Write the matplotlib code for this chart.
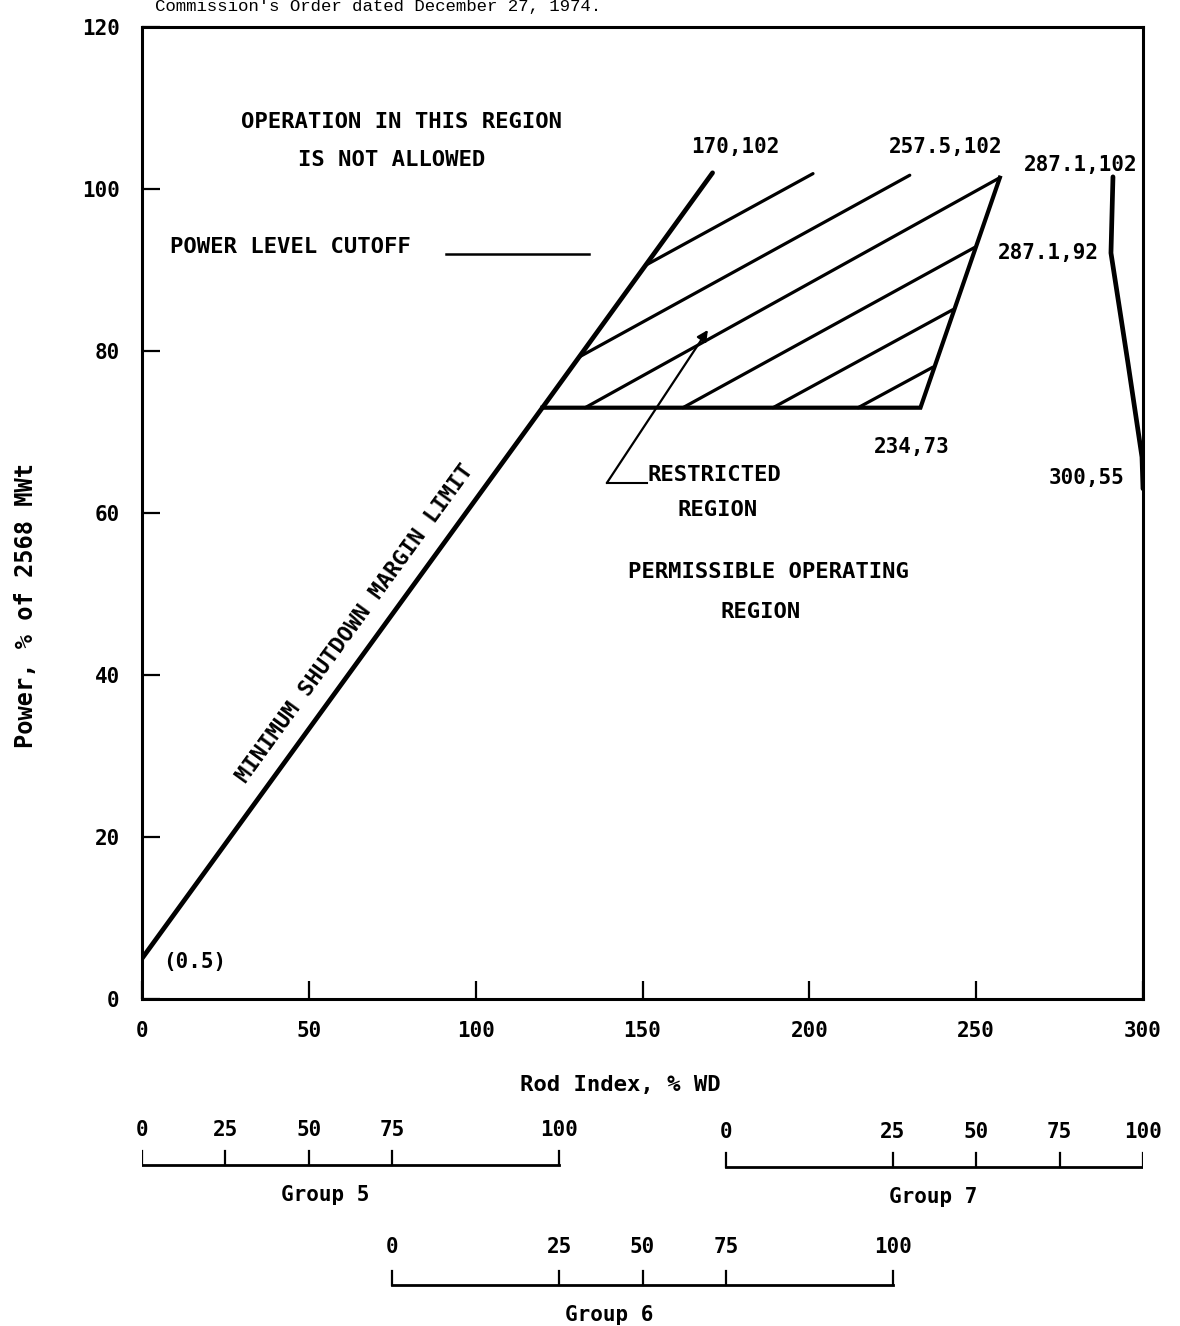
import matplotlib
matplotlib.use('Agg')
import matplotlib.pyplot as plt

# figure size in pixels -> inches at 100 dpi
W, H = 1180, 1326

# minimum shutdown margin limit line
shutdown_x = [0, 120, 171]
shutdown_y = [5, 73, 102]

# restricted region outline (bottom edge + right edge)
region_x = [120, 233.3, 257.1]
region_y = [73, 73, 101.4]

# hatch lines inside restricted region
hatch_x0 = [151.0, 131.2, 132.8, 162.1, 189.1, 214.6]
hatch_y0 = [90.6, 79.3, 73.0, 73.0, 73.0, 73.0]
hatch_x1 = [201.1, 230.1, 257.1, 249.6, 243.0, 237.0]
hatch_y1 = [101.9, 101.7, 101.4, 92.8, 85.1, 78.0]

# right hand limit curve
limit_x = [291.0, 290.4, 295.5, 299.7, 300.0]
limit_y = [101.5, 92.1, 78.5, 66.9, 63.0]

# power level cutoff legend line
cutoff_x = [91, 134]
cutoff_y = [92, 92]

# pointer for restricted region
pointer_vertex = (139.3, 63.7)
pointer_tip = (169.6, 82.6)
pointer_end_x = 151.3

# point labels
point_labels = ['170,102', '257.5,102', '287.1,102', '287.1,92', '234,73', '300,55', '(0.5)']
point_label_x = [177.7, 240.9, 281.4, 271.5, 230.7, 283.0, 15.9]
point_label_y = [105.2, 105.2, 103.0, 92.1, 68.1, 64.3, 4.6]

# x / y axis ticks
x_ticks = [0, 50, 100, 150, 200, 250, 300]
y_ticks = [0, 20, 40, 60, 80, 100, 120]

# group scales: tick labels and the rod index they line up with
group_names = ['Group 5', 'Group 6', 'Group 7']
group_ticks = [0, 25, 50, 75, 100]
group5_pos = [0, 25, 50, 75, 125]
group6_pos = [75, 125, 150, 175, 225]
group7_pos = [175, 225, 250, 275, 300]

plt.rcParams['font.family'] = ['DejaVu Sans Mono']
plt.rcParams['font.weight'] = 'bold'

fig = plt.figure(figsize=(W / 100, H / 100), dpi=100)
fig.patch.set_facecolor('white')

left, right, top, bottom = 142, 1143, 27, 999
ax = fig.add_axes([left / W, 1 - bottom / H, (right - left) / W, (bottom - top) / H])
ax.set_xlim(0, 300)
ax.set_ylim(0, 120)
for s in ax.spines.values():
    s.set_linewidth(2.2)

ax.set_xticks(x_ticks)
ax.set_yticks(y_ticks)
ax.tick_params(direction='in', length=13, width=1.6, labelsize=15, pad=16)
for lab in ax.get_xticklabels() + ax.get_yticklabels():
    lab.set_fontweight('bold')

ax.set_xlabel('Rod Index, % WD', fontsize=16, fontweight='bold')
ax.xaxis.set_label_coords((620 - left) / (right - left), -(1085 - bottom) / (bottom - top))
ax.set_ylabel('Power, % of 2568 MWt', fontsize=17, fontweight='bold')
ax.yaxis.set_label_coords(-(left - 26) / (right - left), (bottom - 605) / (bottom - top))
ax.xaxis.label.set_va('center')
ax.yaxis.label.set_va('center')

# main lines
ax.plot(shutdown_x, shutdown_y, color='k', lw=3.4, solid_capstyle='round')
ax.plot(region_x, region_y, color='k', lw=3.0, solid_joinstyle='miter')
for x0, y0, x1, y1 in zip(hatch_x0, hatch_y0, hatch_x1, hatch_y1):
    ax.plot([x0, x1], [y0, y1], color='k', lw=2.3, solid_capstyle='round')
ax.plot(limit_x, limit_y, color='k', lw=3.4, solid_capstyle='round')
ax.plot(cutoff_x, cutoff_y, color='k', lw=1.8)

# pointer to restricted region
ax.plot([pointer_vertex[0], pointer_end_x], [pointer_vertex[1], pointer_vertex[1]], color='k', lw=1.5)
ax.annotate('', xy=pointer_tip, xytext=pointer_vertex,
            arrowprops=dict(arrowstyle='-|>', color='k', lw=1.6, mutation_scale=16, shrinkA=0, shrinkB=0))

# text labels
tk = dict(fontsize=16, fontweight='bold', ha='center', va='center')
ax.text(77.9, 108.3, 'OPERATION IN THIS REGION', **tk)
ax.text(74.9, 103.6, 'IS NOT ALLOWED', **tk)
ax.text(8.4, 92.8, 'POWER LEVEL CUTOFF', fontsize=16, fontweight='bold', ha='left', va='center')
ax.text(151.6, 64.7, 'RESTRICTED', fontsize=16, fontweight='bold', ha='left', va='center')
ax.text(172.6, 60.4, 'REGION', **tk)
ax.text(187.6, 52.7, 'PERMISSIBLE OPERATING', **tk)
ax.text(185.5, 47.8, 'REGION', **tk)
ax.text(63.8, 46.3, 'MINIMUM SHUTDOWN MARGIN LIMIT', fontsize=16, fontweight='bold',
        ha='center', va='center', rotation=54, rotation_mode='anchor')

for lab, x, y in zip(point_labels, point_label_x, point_label_y):
    ax.text(x, y, lab, fontsize=15, fontweight='bold', ha='center', va='center')

# group scales below the chart, x in rod index, y in pixel rows
axg = fig.add_axes([left / W, 0, (right - left) / W, 1 - bottom / H])
axg.set_xlim(0, 300)
axg.set_ylim(H, bottom)
axg.axis('off')

groups = [
    (group5_pos, 'Group 5', 1130, 1165, 55),
    (group6_pos, 'Group 6', 1247, 1285, 140),
    (group7_pos, 'Group 7', 1132, 1167, 237),
]
for pos, name, ylab, ybar, xname in groups:
    axg.plot([pos[0], pos[-1]], [ybar, ybar], color='k', lw=2.0)
    for p, t in zip(pos, group_ticks):
        axg.plot([p, p], [ybar, ybar - 14], color='k', lw=1.6)
        axg.text(p, ylab, str(t), fontsize=15, fontweight='bold', ha='center', va='center')
    axg.text(xname, ybar + 30, name, fontsize=15, fontweight='bold', ha='center', va='center')

# cut off header line at the top of the scanned page
fig.text(155 / W, 1 - 11 / H, "Commission's Order dated December 27, 1974.",
         fontsize=12.5, fontweight='normal', family=['Liberation Mono', 'DejaVu Sans Mono'],
         ha='left', va='baseline')

fig.savefig('out.png', dpi=100, facecolor='white')
